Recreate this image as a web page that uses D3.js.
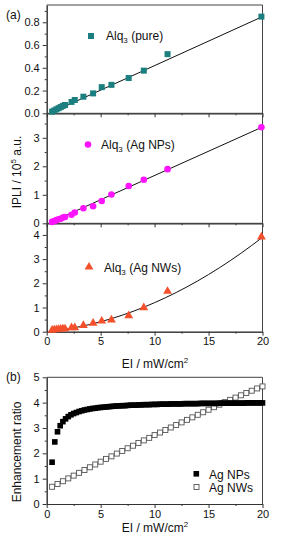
<!DOCTYPE html>
<html lang="en">
<head>
<meta charset="UTF-8">
<title>Alq3 PL vs excitation intensity</title>
<script src="https://d3js.org/d3.v7.min.js"></script>
<style>
  body { margin: 0; background: #fff; }
  svg text { font-family: "Liberation Sans", Arial, sans-serif; fill: #111; }
  .axis path, .axis line { stroke: #333; }
  .axis text { font-size: 11px; fill: #111; }
</style>
</head>
<body>
<svg width="287" height="550"></svg>
<script>
// excitation intensity (mW/cm2) of the measured points
const intensity = [0.5, 0.7, 0.9, 1.1, 1.3, 1.5, 1.7, 2.3, 2.6, 3.4, 4.3, 5.1, 6.0, 7.6, 9.0, 11.2, 19.9];
const purePL = [0.015, 0.025, 0.035, 0.045, 0.055, 0.065, 0.073, 0.10, 0.117, 0.146, 0.175, 0.23, 0.25, 0.31, 0.375, 0.52, 0.85];
const npPL   = [0.05, 0.08, 0.11, 0.14, 0.16, 0.20, 0.22, 0.30, 0.38, 0.53, 0.60, 0.78, 1.01, 1.31, 1.53, 1.90, 3.37];
const nwPL   = [0.04, 0.06, 0.07, 0.08, 0.09, 0.10, 0.10, 0.15, 0.15, 0.24, 0.33, 0.42, 0.47, 0.64, 0.97, 1.65, 3.90];

// fitted curves
const pureFitX = [0.5, 20];
const pureFitY = [0.01, 0.85];
const npFitX = [0.5, 20];
const npFitY = [0.06, 3.38];
const nwFitX = [0.5, 2, 4, 6, 8, 10, 12, 14, 16, 18, 20];
const nwFitY = [0.024, 0.12, 0.30, 0.54, 0.84, 1.20, 1.62, 2.10, 2.64, 3.24, 3.90];

// enhancement ratio (panel b)
const npRatioX = [0.5, 0.75, 1, 1.25, 1.5, 1.75, 2, 2.25, 2.5, 2.75, 3, 3.25, 3.5, 3.75, 4, 4.25, 4.5, 4.75,
  5, 5.25, 5.5, 5.75, 6, 6.25, 6.5, 6.75, 7, 7.25, 7.5, 7.75, 8, 8.25, 8.5, 8.75, 9, 9.25, 9.5, 9.75,
  10, 10.25, 10.5, 10.75, 11, 11.25, 11.5, 11.75, 12, 12.25, 12.5, 12.75, 13, 13.25, 13.5, 13.75, 14, 14.25,
  14.5, 14.75, 15, 15.25, 15.5, 15.75, 16, 16.25, 16.5, 16.75, 17, 17.25, 17.5, 17.75, 18, 18.25, 18.5,
  18.75, 19, 19.25, 19.5, 19.75, 20];
const npRatio = [1.65, 2.45, 2.85, 3.09, 3.25, 3.36, 3.45, 3.52, 3.57, 3.61, 3.65, 3.68, 3.71, 3.73, 3.75, 3.77, 3.78, 3.80,
  3.81, 3.82, 3.83, 3.84, 3.85, 3.86, 3.87, 3.87, 3.88, 3.88, 3.89, 3.90, 3.90, 3.90, 3.91, 3.91, 3.92, 3.92, 3.92, 3.93,
  3.93, 3.93, 3.94, 3.94, 3.94, 3.94, 3.95, 3.95, 3.95, 3.95, 3.95, 3.96, 3.96, 3.96, 3.96, 3.96, 3.96, 3.97,
  3.97, 3.97, 3.97, 3.97, 3.97, 3.97, 3.98, 3.98, 3.98, 3.98, 3.98, 3.98, 3.98, 3.98, 3.98, 3.98, 3.99,
  3.99, 3.99, 3.99, 3.99, 3.99, 3.99];
const nwRatioX = [0.5, 1, 1.5, 2, 2.5, 3, 3.5, 4, 4.5, 5, 5.5, 6, 6.5, 7, 7.5, 8, 8.5, 9, 9.5, 10,
  10.5, 11, 11.5, 12, 12.5, 13, 13.5, 14, 14.5, 15, 15.5, 16, 16.5, 17, 17.5, 18, 18.5, 19, 19.5, 20];
const nwRatio = [0.68, 0.79, 0.90, 1.01, 1.12, 1.23, 1.34, 1.45, 1.56, 1.67, 1.78, 1.88, 1.99, 2.09, 2.20, 2.30, 2.41, 2.51, 2.61, 2.72,
  2.82, 2.92, 3.02, 3.12, 3.22, 3.32, 3.42, 3.52, 3.62, 3.72, 3.82, 3.92, 4.02, 4.11, 4.20, 4.29, 4.38, 4.47, 4.56, 4.64];

const xTicks = [0, 5, 10, 15, 20];

const svg = d3.select("svg");
const x = d3.scaleLinear().domain([0, 20]).range([46.7, 262.5]);

// panel definitions: y domain and pixel range
const panels = [
  {domain: [0, 0.952], range: [113.3, 5], ticks: [0, 0.2, 0.4, 0.6, 0.8], minor: 0.1, fmt: d3.format(".1f"), labels: false},
  {domain: [0, 3.86], range: [223.3, 113.3], ticks: [0, 1, 2, 3], minor: 0.5, fmt: d3.format("d"), labels: false},
  {domain: [0, 4.48], range: [331.7, 223.3], ticks: [0, 1, 2, 3, 4], minor: 0.5, fmt: d3.format("d"), labels: true},
  {domain: [0, 5], range: [504, 377.3], ticks: [0, 1, 2, 3, 4, 5], minor: 0.5, fmt: d3.format("d"), labels: true}
];
panels.forEach(p => p.y = d3.scaleLinear().domain(p.domain).range(p.range));

function drawFrame(p) {
  const g = svg.append("g");
  const [x0, x1] = x.range();
  const [yb, yt] = p.range;
  // top and right borders
  g.append("path").attr("d", `M${x0},${yt}H${x1}V${yb}`).attr("fill", "none").attr("stroke", "#444").attr("stroke-width", 1);

  const minorY = d3.range(p.domain[0], p.domain[1] + 1e-9, p.minor).filter(v => !p.ticks.some(t => Math.abs(t - v) < 1e-6));
  g.append("g").attr("class", "axis").attr("transform", `translate(${x0},0)`)
    .call(d3.axisLeft(p.y).tickValues(minorY).tickSize(2).tickSizeOuter(0).tickFormat(""));
  g.append("g").attr("class", "axis").attr("transform", `translate(${x0},0)`)
    .call(d3.axisLeft(p.y).tickValues(p.ticks).tickSize(4).tickSizeOuter(0).tickPadding(3).tickFormat(p.fmt));

  const minorX = [2.5, 7.5, 12.5, 17.5];
  g.append("g").attr("class", "axis").attr("transform", `translate(0,${yb})`)
    .call(d3.axisBottom(x).tickValues(minorX).tickSize(2).tickSizeOuter(0).tickFormat(""));
  g.append("g").attr("class", "axis").attr("transform", `translate(0,${yb})`)
    .call(d3.axisBottom(x).tickValues(xTicks).tickSize(4).tickSizeOuter(0).tickPadding(2)
      .tickFormat(p.labels ? d3.format("d") : ""));
}
panels.forEach(drawFrame);

function fitLine(p, xs, ys, curve) {
  svg.append("path")
    .datum(xs.map((v, i) => [v, ys[i]]))
    .attr("fill", "none").attr("stroke", "#111").attr("stroke-width", 1)
    .attr("d", d3.line().x(d => x(d[0])).y(d => p.y(d[1])).curve(curve || d3.curveLinear));
}

// panel 1: pure
fitLine(panels[0], pureFitX, pureFitY);
svg.append("g").selectAll("path")
  .data(intensity.map((v, i) => [v, purePL[i]]))
  .join("path")
  .attr("d", d3.symbol(d3.symbolSquare, 36))
  .attr("transform", d => `translate(${x(d[0])},${panels[0].y(d[1])})`)
  .attr("fill", "#1b7f7f");

// panel 2: Ag NPs
fitLine(panels[1], npFitX, npFitY);
svg.append("g").selectAll("circle")
  .data(intensity.map((v, i) => [v, npPL[i]]))
  .join("circle")
  .attr("cx", d => x(d[0])).attr("cy", d => panels[1].y(d[1])).attr("r", 3.3)
  .attr("fill", "#ff14ff");

// panel 3: Ag NWs
fitLine(panels[2], nwFitX, nwFitY, d3.curveMonotoneX);
svg.append("g").selectAll("path")
  .data(intensity.map((v, i) => [v, nwPL[i]]))
  .join("path")
  .attr("d", d3.symbol(d3.symbolTriangle, 34))
  .attr("transform", d => `translate(${x(d[0])},${panels[2].y(d[1]) - 0.5})`)
  .attr("fill", "#f4502c");

// panel b
const pb = panels[3];
svg.append("g").selectAll("rect")
  .data(nwRatioX.map((v, i) => [v, nwRatio[i]]))
  .join("rect")
  .attr("x", d => x(d[0]) - 2.5).attr("y", d => pb.y(d[1]) - 2.5)
  .attr("width", 5).attr("height", 5)
  .attr("fill", "#fff").attr("stroke", "#555").attr("stroke-width", 0.9);
svg.append("g").selectAll("rect")
  .data(npRatioX.map((v, i) => [v, npRatio[i]]))
  .join("rect")
  .attr("x", d => x(d[0]) - 2.8).attr("y", d => pb.y(d[1]) - 2.8)
  .attr("width", 5.6).attr("height", 5.6)
  .attr("fill", "#000");

// legends
function alqLabel(px, py, suffix) {
  const t = svg.append("text").attr("x", px).attr("y", py).attr("font-size", 12);
  t.append("tspan").text("Alq");
  t.append("tspan").attr("font-size", 8).attr("dy", 3).text("3");
  t.append("tspan").attr("dy", -3).text(" " + suffix);
}
svg.append("rect").attr("x", 88).attr("y", 33).attr("width", 6).attr("height", 6).attr("fill", "#1b7f7f");
alqLabel(106, 40, "(pure)");
svg.append("circle").attr("cx", 88).attr("cy", 144.5).attr("r", 3.3).attr("fill", "#ff14ff");
alqLabel(101, 149, "(Ag NPs)");
svg.append("path").attr("d", d3.symbol(d3.symbolTriangle, 34)).attr("transform", "translate(89,267)").attr("fill", "#f4502c");
alqLabel(104, 272, "(Ag NWs)");

svg.append("rect").attr("x", 193.5).attr("y", 471).attr("width", 5.6).attr("height", 5.6).attr("fill", "#000");
svg.append("text").attr("x", 209).attr("y", 478.5).attr("font-size", 12).text("Ag NPs");
svg.append("rect").attr("x", 194).attr("y", 484.5).attr("width", 5).attr("height", 5)
  .attr("fill", "#fff").attr("stroke", "#555").attr("stroke-width", 0.9);
svg.append("text").attr("x", 209).attr("y", 491.5).attr("font-size", 12).text("Ag NWs");

// panel labels
svg.append("text").attr("x", 6).attr("y", 19).attr("font-size", 12).text("(a)");
svg.append("text").attr("x", 6).attr("y", 381).attr("font-size", 12).text("(b)");

// axis titles
function xTitle(py) {
  const t = svg.append("text").attr("x", 155).attr("y", py).attr("text-anchor", "middle").attr("font-size", 12);
  t.append("tspan").text("EI / mW/cm");
  t.append("tspan").attr("font-size", 8).attr("dy", -5).text("2");
}
xTitle(368);
xTitle(532);

const yt1 = svg.append("text").attr("transform", "translate(21,172) rotate(-90)")
  .attr("text-anchor", "middle").attr("font-size", 12);
yt1.append("tspan").text("IPLI / 10");
yt1.append("tspan").attr("font-size", 8).attr("dy", -5).text("5");
yt1.append("tspan").attr("dy", 5).text(" a.u.");

svg.append("text").attr("transform", "translate(21,452) rotate(-90)")
  .attr("text-anchor", "middle").attr("font-size", 12).text("Enhancement ratio");
</script>
</body>
</html>
